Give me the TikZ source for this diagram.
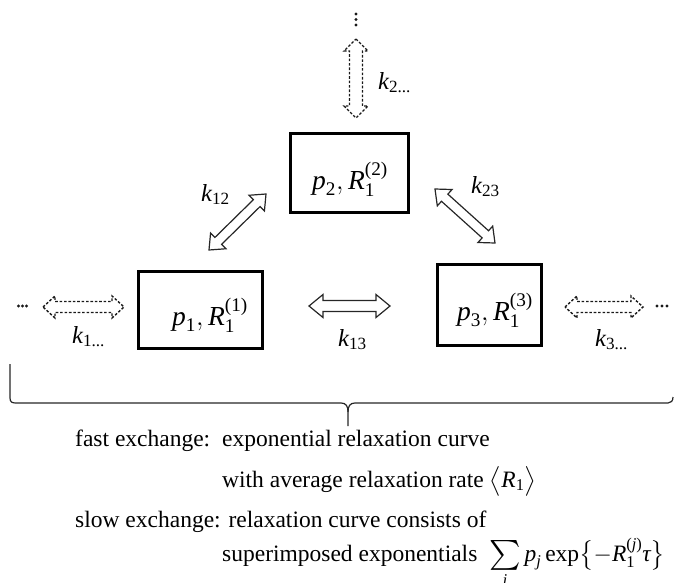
\RequirePackage{fix-cm}
\documentclass[tikz,border=0pt]{standalone}
\usepackage{amsmath}
\usepackage{graphicx}
\usepackage{fontspec}
\setmainfont{Liberation Serif}
\usetikzlibrary{calc}

% hollow double-headed arrow between two named coordinates
\newcommand\arrL{14pt}
\newcommand\arrH{11pt}
\newcommand\arrS{5pt}
\newcommand\hollowarrow[3]{%
  \draw[#1] (#2)
    -- ($(#2)!\arrL!(#3)!\arrH!90:(#3)$)
    -- ($(#2)!\arrL!(#3)!\arrS!90:(#3)$)
    -- ($(#3)!\arrL!(#2)!\arrS!-90:(#2)$)
    -- ($(#3)!\arrL!(#2)!\arrH!-90:(#2)$)
    -- (#3)
    -- ($(#3)!\arrL!(#2)!\arrH!90:(#2)$)
    -- ($(#3)!\arrL!(#2)!\arrS!90:(#2)$)
    -- ($(#2)!\arrL!(#3)!\arrS!-90:(#3)$)
    -- ($(#2)!\arrL!(#3)!\arrH!-90:(#3)$)
    -- cycle;}

\newcommand\boxfont{\fontsize{27.5}{32}\selectfont}
\newcommand\kfont{\fontsize{24.5}{28}\selectfont}
\newcommand\notefont{\fontsize{23.5}{28}\selectfont}
\newcommand\iv[1]{\textit{#1}}
% a summation sign of moderate size with its index set below
\newcommand\midsum{\mathop{\vcenter{\hbox{\scalebox{1.2}{$\textstyle\sum$}}}}\limits}

\tikzset{
  statebox/.style={draw, line width=3pt, inner sep=0pt},
  boxtext/.style={anchor=base, inner sep=0pt, font=\boxfont},
  ratelabel/.style={anchor=base west, inner sep=0pt, font=\kfont},
  note/.style={anchor=base west, inner sep=0pt, font=\notefont},
  solidarrow/.style={draw=black!85, line width=1.2pt, line join=miter},
  dashedarrow/.style={draw=black!90, line width=1.4pt, dash pattern=on 2.6pt off 1.8pt, line join=miter},
  dot/.style={fill=black!90, draw=none},
}

\begin{document}
\begin{tikzpicture}[x=1pt, y=-1pt]
\useasboundingbox (0,0) rectangle (678,582);

% the three states
\node[statebox, minimum width=124pt, minimum height=77pt] (b1) at (200,309.5) {};
\node[statebox, minimum width=118pt, minimum height=79pt] (b2) at (349.5,172.5) {};
\node[statebox, minimum width=104pt, minimum height=81pt] (b3) at (489,304.5) {};

\node[boxtext] (t1) at (210,325) {$\iv{p}_{\textrm{1}},\iv{R}_{\textrm{1}}^{\textrm{(1)}}$};
\node[boxtext] (t2) at (350,189) {$\iv{p}_{\textrm{2}},\iv{R}_{\textrm{1}}^{\textrm{(2)}}$};
\node[boxtext] (t3) at (495,320) {$\iv{p}_{\textrm{3}},\iv{R}_{\textrm{1}}^{\textrm{(3)}}$};

% exchange arrows between the states
\coordinate (a12s) at (209,250);
\coordinate (a12e) at (266,194);
\coordinate (a23s) at (435,189);
\coordinate (a23e) at (495,243);
\coordinate (a13s) at (309,306);
\coordinate (a13e) at (390,306);
\renewcommand\arrL{13pt}\renewcommand\arrH{11pt}\renewcommand\arrS{4.8pt}
\hollowarrow{solidarrow}{a12s}{a12e}
\hollowarrow{solidarrow}{a23s}{a23e}
\renewcommand\arrL{14pt}\renewcommand\arrH{11.5pt}\renewcommand\arrS{5.5pt}
\hollowarrow{solidarrow}{a13s}{a13e}

% exchange with further states
\coordinate (a1s) at (43,307);
\coordinate (a1e) at (124,307);
\coordinate (a3s) at (565,307);
\coordinate (a3e) at (643,307);
\coordinate (a2s) at (356,39);
\coordinate (a2e) at (356,118);
\renewcommand\arrL{12pt}\renewcommand\arrH{11pt}\renewcommand\arrS{5.5pt}
\hollowarrow{dashedarrow}{a1s}{a1e}
\hollowarrow{dashedarrow}{a3s}{a3e}
\renewcommand\arrH{12pt}\renewcommand\arrS{6.5pt}
\hollowarrow{dashedarrow}{a2s}{a2e}

% continuation dots
\foreach \x in {18.5,22.5,26.5} \fill[dot] (\x,306) circle (1.7pt);
\foreach \x in {657,662,667} \fill[dot] (\x,306) circle (1.7pt);
\foreach \y in {14,19.5,25} \fill[dot] (356,\y) circle (1.6pt);

% rate constants
\node[ratelabel] (k12) at (201,201) {$\iv{k}_{\textrm{12}}$};
\node[ratelabel] (k23) at (471,193) {$\iv{k}_{\textrm{23}}$};
\node[ratelabel] (k13) at (338,346) {$\iv{k}_{\textrm{13}}$};
\node[ratelabel] (k1) at (72,343) {$\iv{k}_{\textrm{1...}}$};
\node[ratelabel] (k3) at (595,346) {$\iv{k}_{\textrm{3...}}$};
\node[ratelabel] (k2) at (378,89) {$\iv{k}_{\textrm{2...}}$};

% brace gathering the whole exchange network
\draw[line width=1.2pt, black!85]
  (10,364) -- (10,398) .. controls (10,402) and (12,403) .. (16,403)
  -- (341,403) .. controls (346,403) and (348,406) .. (348,412) -- (348,426);
\draw[line width=1.2pt, black!85]
  (348,412) .. controls (348,406) and (350,403) .. (355,403)
  -- (668,403) .. controls (671,403) and (673,401) .. (673,397);

% regimes of exchange
\node[note] (fast) at (75,446) {fast exchange:};
\node[note] (fast1) at (222,446) {exponential relaxation curve};
\node[note] (fast2) at (222,487) {with average relaxation rate $\bigl\langle \iv{R}_{\textrm{1}}\bigr\rangle$};
\node[note] (slow) at (75,527) {slow exchange: relaxation curve consists of};
\node[note] (slow2) at (222,561) {superimposed exponentials\ \ $\midsum_{\iv{j}}\iv{p}_{\iv{j}}\,\textrm{exp}\bigl\{-\iv{R}_{\textrm{1}}^{\textrm{(}\iv{j}\textrm{)}}\iv{τ}\bigr\}$};
\end{tikzpicture}
\end{document}
